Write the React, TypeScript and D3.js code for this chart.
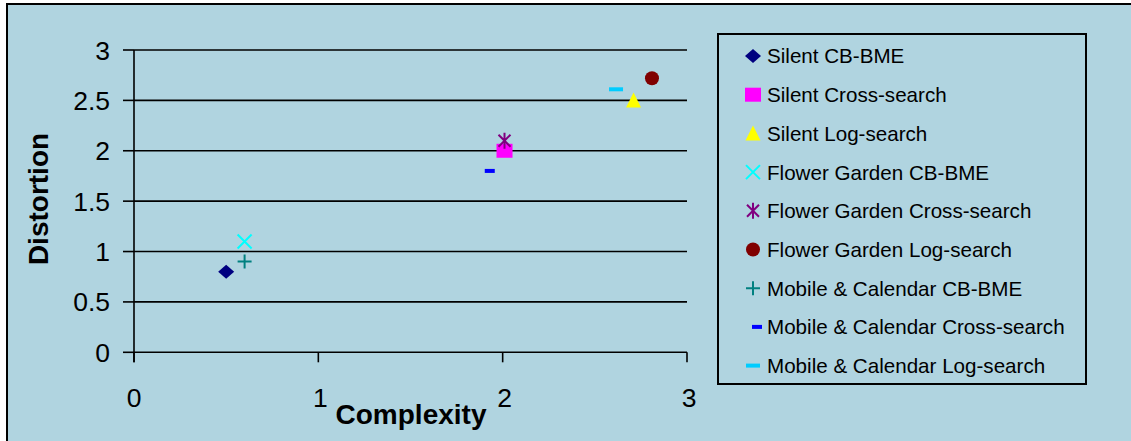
import React from "react";
import * as d3 from "d3";

const seriesNames = [
  "Silent CB-BME",
  "Silent Cross-search",
  "Silent Log-search",
  "Flower Garden CB-BME",
  "Flower Garden Cross-search",
  "Flower Garden Log-search",
  "Mobile & Calendar CB-BME",
  "Mobile & Calendar Cross-search",
  "Mobile & Calendar Log-search",
];
const complexity = [0.5, 2.01, 2.71, 0.6, 2.01, 2.81, 0.6, 1.93, 2.615];
const distortion = [0.8, 2.0, 2.5, 1.1, 2.1, 2.72, 0.9, 1.8, 2.61];
const markerTypes = ["diamond", "square", "triangle", "x", "asterisk", "circle", "plus", "dash", "longdash"];
const markerColors = ["#000080", "#FF00FF", "#FFFF00", "#00FFFF", "#800080", "#800000", "#008080", "#0000FF", "#00CCFF"];
const xTicks = [0, 1, 2, 3];
const yTicks = [0, 0.5, 1, 1.5, 2, 2.5, 3];

const FONT = "'Liberation Sans', Arial, sans-serif";
const BG = "#B0D4E0";

function Marker({ type, color, cx, cy }: { type: string; color: string; cx: number; cy: number }) {
  switch (type) {
    case "diamond":
      return <path d={`M${cx},${cy - 7}L${cx + 8},${cy}L${cx},${cy + 7}L${cx - 8},${cy}Z`} fill={color} />;
    case "square":
      return <rect x={cx - 8} y={cy - 7} width={16} height={14} fill={color} />;
    case "triangle":
      return <path d={`M${cx},${cy - 8}L${cx + 7.5},${cy + 7}L${cx - 7.5},${cy + 7}Z`} fill={color} />;
    case "x":
      return (
        <path d={`M${cx - 7},${cy - 7}L${cx + 7},${cy + 7}M${cx + 7},${cy - 7}L${cx - 7},${cy + 7}`} stroke={color} strokeWidth={2} />
      );
    case "asterisk":
      return (
        <path
          d={`M${cx - 6},${cy - 6}L${cx + 6},${cy + 6}M${cx + 6},${cy - 6}L${cx - 6},${cy + 6}M${cx},${cy - 8}L${cx},${cy + 8}`}
          stroke={color}
          strokeWidth={2}
        />
      );
    case "circle":
      return <circle cx={cx} cy={cy} r={7} fill={color} />;
    case "plus":
      return <path d={`M${cx - 7},${cy}L${cx + 7},${cy}M${cx},${cy - 7}L${cx},${cy + 7}`} stroke={color} strokeWidth={2} />;
    case "dash":
      return <rect x={cx - 5} y={cy - 2} width={10} height={4} fill={color} />;
    case "longdash":
      return <rect x={cx - 7} y={cy - 2} width={14} height={4} fill={color} />;
    default:
      return null;
  }
}

export default function App() {
  const W = 1131;
  const H = 441;
  const x = d3.scaleLinear().domain([0, 3]).range([134, 687]);
  const y = d3.scaleLinear().domain([0, 3]).range([352.3, 50]);

  const legendX = 718;
  const legendY = 34;
  const legendW = 368;
  const legendH = 350;
  const itemY0 = 56;
  const itemStep = 38.7;

  return (
    <svg width={W} height={H} style={{ position: "absolute", left: 0, top: 0, background: "#fff" }}>
      <rect x={7} y={4} width={W} height={H} fill={BG} stroke="#000" strokeWidth={2} />

      {yTicks.map((t) => (
        <g key={"g" + t}>
          <line x1={x(0)} x2={x(3)} y1={y(t)} y2={y(t)} stroke="#000" strokeWidth={1.6} />
          <line x1={x(0) - 11} x2={x(0)} y1={y(t)} y2={y(t)} stroke="#000" strokeWidth={1.6} />
          <text x={110} y={y(t)} dy="0.36em" textAnchor="end" fontFamily={FONT} fontSize={26.5} fill="#000">
            {t}
          </text>
        </g>
      ))}
      <line x1={x(0)} x2={x(0)} y1={y(3)} y2={y(0) + 10} stroke="#000" strokeWidth={1.6} />
      {xTicks.map((t) => (
        <g key={"x" + t}>
          <line x1={x(t)} x2={x(t)} y1={y(0)} y2={y(0) + 10} stroke="#000" strokeWidth={1.6} />
          <text x={x(t) + (t === 0 ? 0 : 2)} y={407} textAnchor="middle" fontFamily={FONT} fontSize={26.5} fill="#000">
            {t}
          </text>
        </g>
      ))}

      <text x={411} y={424} textAnchor="middle" fontFamily={FONT} fontSize={28} fontWeight="bold" fill="#000">
        Complexity
      </text>
      <text
        transform={`translate(48,199) rotate(-90)`}
        textAnchor="middle"
        fontFamily={FONT}
        fontSize={28}
        fontWeight="bold"
        fill="#000"
      >
        Distortion
      </text>

      {seriesNames.map((s, i) => (
        <Marker key={s} type={markerTypes[i]} color={markerColors[i]} cx={x(complexity[i])} cy={y(distortion[i])} />
      ))}

      <rect x={legendX} y={legendY} width={legendW} height={legendH} fill="none" stroke="#000" strokeWidth={2} />
      {seriesNames.map((s, i) => {
        const cy = itemY0 + i * itemStep;
        const mx = markerTypes[i] === "dash" ? 757 : 753;
        return (
          <g key={"l" + s}>
            <Marker type={markerTypes[i]} color={markerColors[i]} cx={mx} cy={cy} />
            <text x={767} y={cy} dy="0.36em" fontFamily={FONT} fontSize={20.6} fill="#000">
              {s}
            </text>
          </g>
        );
      })}
    </svg>
  );
}
